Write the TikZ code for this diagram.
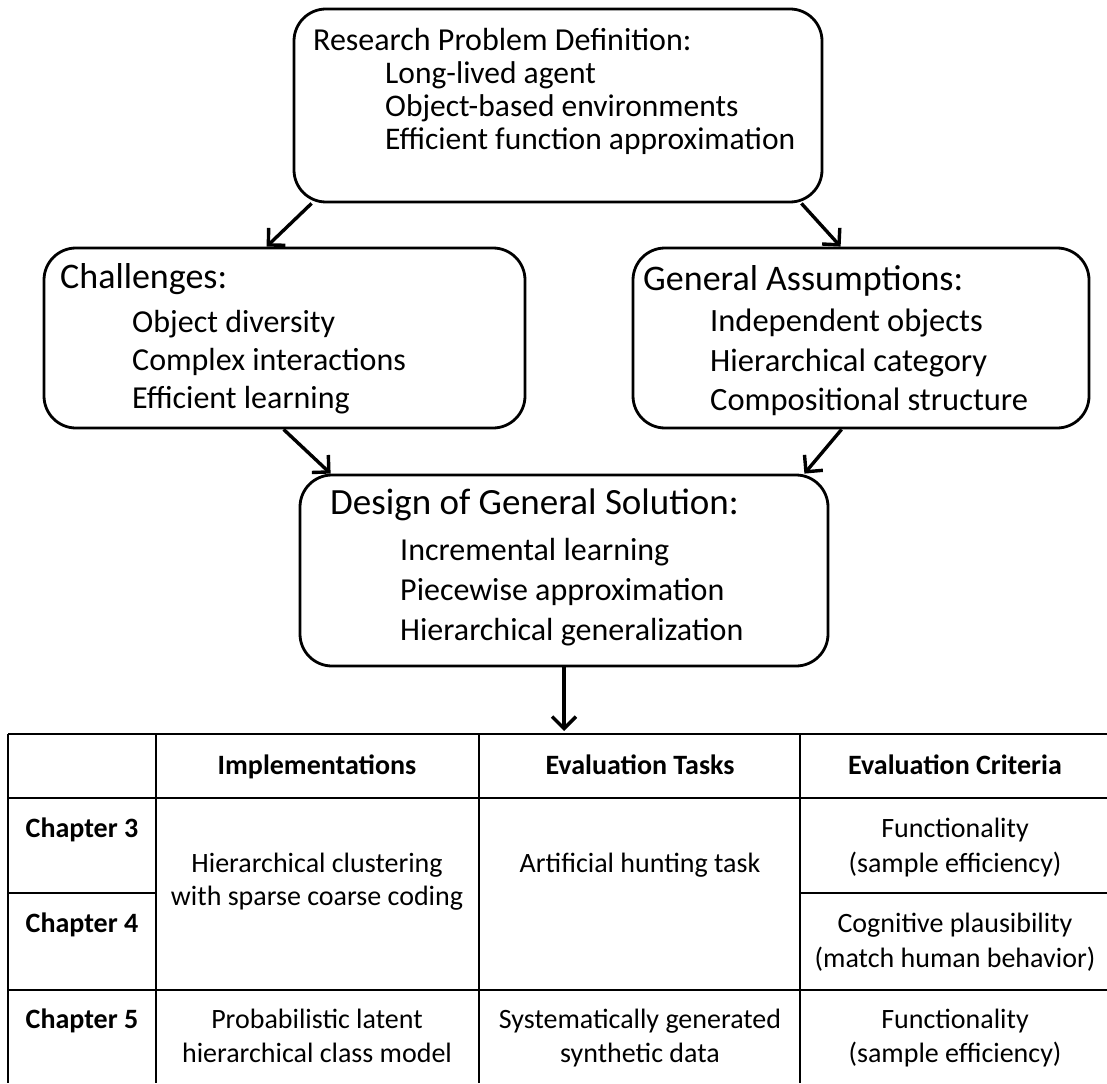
\documentclass[tikz,border=0pt]{standalone}
\usepackage{fontspec}
\setmainfont{Carlito}
\usetikzlibrary{arrows.meta,calc}
\begin{document}
\begin{tikzpicture}[x=1pt,y=-1pt,
  box/.style={draw=black, line width=2.8pt, rounded corners=32pt, inner sep=0pt},
  flow/.style={line width=3.4pt, -{Straight Barb[length=12pt,width=24pt,line width=3.4pt]}},
  head/.style={inner sep=0pt, anchor=base west, font=\fontsize{#1}{#1}\selectfont},
  head/.default=36,
  item/.style={inner sep=0pt, anchor=base west, font=\fontsize{#1}{#1}\selectfont},
  item/.default=32,
  grid/.style={line width=1.8pt},
  cell/.style={inner sep=0pt, anchor=base, font=\fontsize{28}{28}\selectfont},
  bcell/.style={cell, font=\fontsize{28}{28}\selectfont\bfseries}
]
\useasboundingbox (0,0) rectangle (1107,1083);

% ---- boxes ----
\node[box, minimum width=528pt, minimum height=193pt] (rpd) at (558,105.5) {};
\node[box, minimum width=481pt, minimum height=180pt] (chal) at (284.5,338) {};
\node[box, minimum width=456pt, minimum height=180pt] (ga) at (861,338) {};
\node[box, minimum width=528pt, minimum height=191pt] (des) at (564,570.5) {};

% ---- box texts ----
\node[head=32] (rpd0) at (313,51) {Research Problem Definition:};
\node[item=31.5] (rpd1) at (385,84) {Long-lived agent};
\node[item=31.5] (rpd2) at (385,117) {Object-based environments};
\node[item=31.5] (rpd3) at (385,150) {Efficient function approximation};

\node[head] (chal0) at (60,288) {Challenges:};
\node[item] (chal1) at (132,332) {Object diversity};
\node[item] (chal2) at (132,370) {Complex interactions};
\node[item] (chal3) at (132,408) {Efficient learning};

\node[head] (ga0) at (643,290) {General Assumptions:};
\node[item=32.5] (ga1) at (710,331) {Independent objects};
\node[item=32.5] (ga2) at (710,371) {Hierarchical category};
\node[item=32.5] (ga3) at (710,410) {Compositional structure};

\node[head=37] (des0) at (330,514) {Design of General Solution:};
\node[item] (des1) at (400,560) {Incremental learning};
\node[item] (des2) at (400,600) {Piecewise approximation};
\node[item] (des3) at (400,640) {Hierarchical generalization};

% ---- connectors ----
\coordinate (tabtop) at (564,731);
\draw[flow] ($(rpd.south west)+(19,0)$) -- ($(chal.north west)+(224,0)$);
\draw[flow] ($(rpd.south east)+(-22,0)$) -- ($(ga.north west)+(209,0)$);
\draw[flow] ($(chal.south west)+(241,0)$) -- ($(des.north west)+(32,0)$);
\draw[flow] ($(ga.south west)+(210,0)$) -- ($(des.north east)+(-25,0)$);
\draw[flow] (des.south) -- (tabtop);

% ---- table rules ----
\draw[grid] (8,734) -- (1107,734);
\draw[grid] (8,798) -- (1107,798);
\draw[grid] (8,893) -- (156,893);
\draw[grid] (800,893) -- (1107,893);
\draw[grid] (8,990) -- (1107,990);
\foreach \cx in {8,156,479,800} \draw[grid] (\cx,734) -- (\cx,1083);

% ---- table texts ----
\node[bcell] (h1) at (317,774) {Implementations};
\node[bcell] (h2) at (640,774) {Evaluation Tasks};
\node[bcell] (h3) at (955,774) {Evaluation Criteria};

\node[bcell] (c3) at (82,837) {Chapter 3};
\node[bcell] (c4) at (82,932) {Chapter 4};
\node[bcell] (c5) at (82,1028) {Chapter 5};

\node[cell] (i1a) at (317,872) {Hierarchical clustering};
\node[cell] (i1b) at (317,905) {with sparse coarse coding};
\node[cell] (t1) at (640,872) {Artificial hunting task};
\node[cell] (e1a) at (955,837) {Functionality};
\node[cell] (e1b) at (955,872) {(sample efficiency)};
\node[cell] (e2a) at (955,932) {Cognitive plausibility};
\node[cell] (e2b) at (955,967) {(match human behavior)};

\node[cell] (i2a) at (317,1028) {Probabilistic latent};
\node[cell] (i2b) at (317,1062) {hierarchical class model};
\node[cell] (t2a) at (640,1028) {Systematically generated};
\node[cell] (t2b) at (640,1062) {synthetic data};
\node[cell] (e3a) at (955,1028) {Functionality};
\node[cell] (e3b) at (955,1062) {(sample efficiency)};
\end{tikzpicture}
\end{document}
